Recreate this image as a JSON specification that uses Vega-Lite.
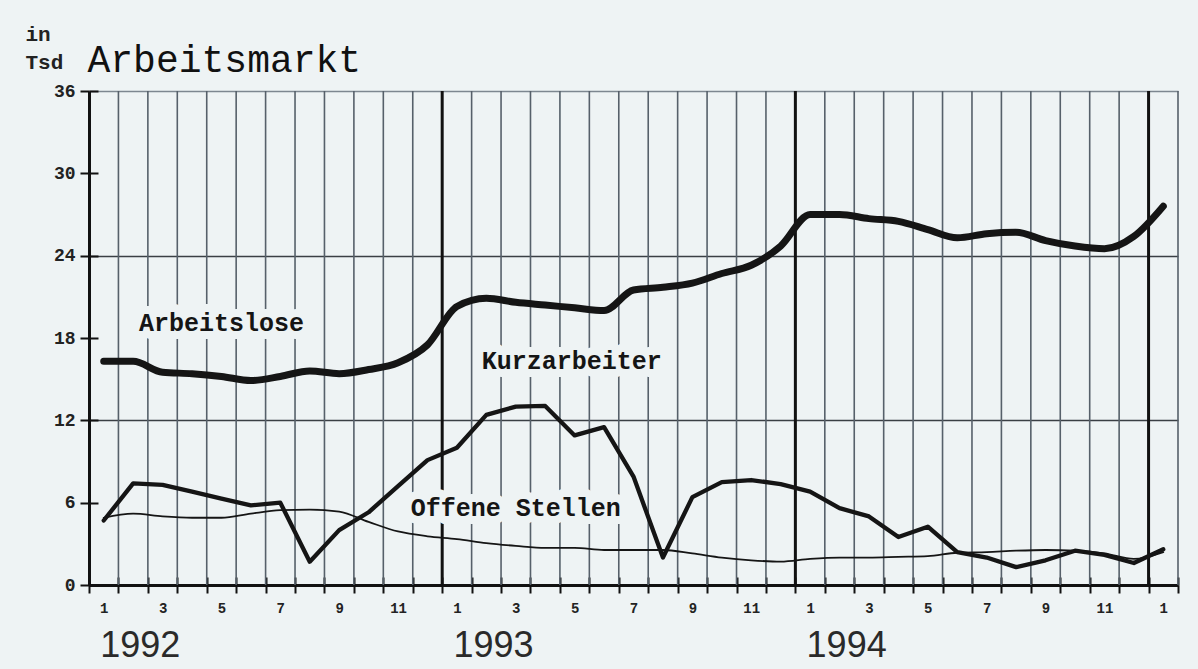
{
  "$schema": "https://vega.github.io/schema/vega-lite/v6.json",
  "width": 1089,
  "height": 494,
  "autosize": "none",
  "padding": {"left": 89, "top": 91, "right": 20, "bottom": 84},
  "background": "#eef3f4",
  "config": {"view": {"stroke": null}},
  "datasets": {
    "minor": [
      {"b": 0.5}, {"b": 1.5}, {"b": 2.5}, {"b": 3.5}, {"b": 4.5}, {"b": 5.5}, {"b": 6.5}, {"b": 7.5}, {"b": 8.5}, {"b": 9.5}, {"b": 10.5},
      {"b": 12.5}, {"b": 13.5}, {"b": 14.5}, {"b": 15.5}, {"b": 16.5}, {"b": 17.5}, {"b": 18.5}, {"b": 19.5}, {"b": 20.5}, {"b": 21.5}, {"b": 22.5},
      {"b": 24.5}, {"b": 25.5}, {"b": 26.5}, {"b": 27.5}, {"b": 28.5}, {"b": 29.5}, {"b": 30.5}, {"b": 31.5}, {"b": 32.5}, {"b": 33.5}, {"b": 34.5},
      {"b": 36.5}
    ],
    "major": [{"b": 11.5}, {"b": 23.5}, {"b": 35.5}],
    "labels": [
      {"label": "Arbeitslose", "t": 4.0, "v": 19.1},
      {"label": "Kurzarbeiter", "t": 15.9, "v": 16.3},
      {"label": "Offene Stellen", "t": 14.0, "v": 5.6}
    ],
    "series": [
      {"series": "Arbeitslose", "t": 0, "v": 16.3}, {"series": "Arbeitslose", "t": 1, "v": 16.3}, {"series": "Arbeitslose", "t": 2, "v": 15.5}, {"series": "Arbeitslose", "t": 3, "v": 15.4}, {"series": "Arbeitslose", "t": 4, "v": 15.2}, {"series": "Arbeitslose", "t": 5, "v": 14.9}, {"series": "Arbeitslose", "t": 6, "v": 15.2}, {"series": "Arbeitslose", "t": 7, "v": 15.6}, {"series": "Arbeitslose", "t": 8, "v": 15.4}, {"series": "Arbeitslose", "t": 9, "v": 15.7}, {"series": "Arbeitslose", "t": 10, "v": 16.2}, {"series": "Arbeitslose", "t": 11, "v": 17.5},
      {"series": "Arbeitslose", "t": 12, "v": 20.3}, {"series": "Arbeitslose", "t": 13, "v": 20.9}, {"series": "Arbeitslose", "t": 14, "v": 20.6}, {"series": "Arbeitslose", "t": 15, "v": 20.4}, {"series": "Arbeitslose", "t": 16, "v": 20.2}, {"series": "Arbeitslose", "t": 17, "v": 20.0}, {"series": "Arbeitslose", "t": 18, "v": 21.5}, {"series": "Arbeitslose", "t": 19, "v": 21.7}, {"series": "Arbeitslose", "t": 20, "v": 22.0}, {"series": "Arbeitslose", "t": 21, "v": 22.7}, {"series": "Arbeitslose", "t": 22, "v": 23.3}, {"series": "Arbeitslose", "t": 23, "v": 24.7},
      {"series": "Arbeitslose", "t": 24, "v": 27.0}, {"series": "Arbeitslose", "t": 25, "v": 27.0}, {"series": "Arbeitslose", "t": 26, "v": 26.7}, {"series": "Arbeitslose", "t": 27, "v": 26.5}, {"series": "Arbeitslose", "t": 28, "v": 25.9}, {"series": "Arbeitslose", "t": 29, "v": 25.3}, {"series": "Arbeitslose", "t": 30, "v": 25.6}, {"series": "Arbeitslose", "t": 31, "v": 25.7}, {"series": "Arbeitslose", "t": 32, "v": 25.1}, {"series": "Arbeitslose", "t": 33, "v": 24.7}, {"series": "Arbeitslose", "t": 34, "v": 24.5}, {"series": "Arbeitslose", "t": 35, "v": 25.4}, {"series": "Arbeitslose", "t": 36, "v": 27.6},
      {"series": "Kurzarbeiter", "t": 0, "v": 4.7}, {"series": "Kurzarbeiter", "t": 1, "v": 7.4}, {"series": "Kurzarbeiter", "t": 2, "v": 7.3}, {"series": "Kurzarbeiter", "t": 3, "v": 6.8}, {"series": "Kurzarbeiter", "t": 4, "v": 6.3}, {"series": "Kurzarbeiter", "t": 5, "v": 5.8}, {"series": "Kurzarbeiter", "t": 6, "v": 6.0}, {"series": "Kurzarbeiter", "t": 7, "v": 1.7}, {"series": "Kurzarbeiter", "t": 8, "v": 4.0}, {"series": "Kurzarbeiter", "t": 9, "v": 5.3}, {"series": "Kurzarbeiter", "t": 10, "v": 7.2}, {"series": "Kurzarbeiter", "t": 11, "v": 9.1},
      {"series": "Kurzarbeiter", "t": 12, "v": 10.0}, {"series": "Kurzarbeiter", "t": 13, "v": 12.4}, {"series": "Kurzarbeiter", "t": 14, "v": 13.0}, {"series": "Kurzarbeiter", "t": 15, "v": 13.05}, {"series": "Kurzarbeiter", "t": 16, "v": 10.9}, {"series": "Kurzarbeiter", "t": 17, "v": 11.5}, {"series": "Kurzarbeiter", "t": 18, "v": 7.9}, {"series": "Kurzarbeiter", "t": 19, "v": 2.0}, {"series": "Kurzarbeiter", "t": 20, "v": 6.4}, {"series": "Kurzarbeiter", "t": 21, "v": 7.5}, {"series": "Kurzarbeiter", "t": 22, "v": 7.65}, {"series": "Kurzarbeiter", "t": 23, "v": 7.35},
      {"series": "Kurzarbeiter", "t": 24, "v": 6.8}, {"series": "Kurzarbeiter", "t": 25, "v": 5.6}, {"series": "Kurzarbeiter", "t": 26, "v": 5.0}, {"series": "Kurzarbeiter", "t": 27, "v": 3.5}, {"series": "Kurzarbeiter", "t": 28, "v": 4.25}, {"series": "Kurzarbeiter", "t": 29, "v": 2.4}, {"series": "Kurzarbeiter", "t": 30, "v": 2.0}, {"series": "Kurzarbeiter", "t": 31, "v": 1.3}, {"series": "Kurzarbeiter", "t": 32, "v": 1.8}, {"series": "Kurzarbeiter", "t": 33, "v": 2.5}, {"series": "Kurzarbeiter", "t": 34, "v": 2.2}, {"series": "Kurzarbeiter", "t": 35, "v": 1.6}, {"series": "Kurzarbeiter", "t": 36, "v": 2.6},
      {"series": "Offene Stellen", "t": 0, "v": 4.9}, {"series": "Offene Stellen", "t": 1, "v": 5.2}, {"series": "Offene Stellen", "t": 2, "v": 5.0}, {"series": "Offene Stellen", "t": 3, "v": 4.9}, {"series": "Offene Stellen", "t": 4, "v": 4.9}, {"series": "Offene Stellen", "t": 5, "v": 5.2}, {"series": "Offene Stellen", "t": 6, "v": 5.45}, {"series": "Offene Stellen", "t": 7, "v": 5.5}, {"series": "Offene Stellen", "t": 8, "v": 5.35}, {"series": "Offene Stellen", "t": 9, "v": 4.6}, {"series": "Offene Stellen", "t": 10, "v": 3.9}, {"series": "Offene Stellen", "t": 11, "v": 3.55},
      {"series": "Offene Stellen", "t": 12, "v": 3.35}, {"series": "Offene Stellen", "t": 13, "v": 3.05}, {"series": "Offene Stellen", "t": 14, "v": 2.85}, {"series": "Offene Stellen", "t": 15, "v": 2.7}, {"series": "Offene Stellen", "t": 16, "v": 2.7}, {"series": "Offene Stellen", "t": 17, "v": 2.55}, {"series": "Offene Stellen", "t": 18, "v": 2.55}, {"series": "Offene Stellen", "t": 19, "v": 2.55}, {"series": "Offene Stellen", "t": 20, "v": 2.3}, {"series": "Offene Stellen", "t": 21, "v": 2.0}, {"series": "Offene Stellen", "t": 22, "v": 1.8}, {"series": "Offene Stellen", "t": 23, "v": 1.7},
      {"series": "Offene Stellen", "t": 24, "v": 1.9}, {"series": "Offene Stellen", "t": 25, "v": 2.0}, {"series": "Offene Stellen", "t": 26, "v": 2.0}, {"series": "Offene Stellen", "t": 27, "v": 2.05}, {"series": "Offene Stellen", "t": 28, "v": 2.1}, {"series": "Offene Stellen", "t": 29, "v": 2.35}, {"series": "Offene Stellen", "t": 30, "v": 2.4}, {"series": "Offene Stellen", "t": 31, "v": 2.5}, {"series": "Offene Stellen", "t": 32, "v": 2.55}, {"series": "Offene Stellen", "t": 33, "v": 2.5}, {"series": "Offene Stellen", "t": 34, "v": 2.3}, {"series": "Offene Stellen", "t": 35, "v": 1.9}, {"series": "Offene Stellen", "t": 36, "v": 2.4}
    ]
  },
  "layer": [
    {
      "data": {"name": "minor"},
      "mark": {"type": "rule", "color": "#56606a", "strokeWidth": 1.6},
      "encoding": {
        "x": {
          "field": "b", "type": "quantitative",
          "scale": {"domain": [-0.5, 36.5], "nice": false, "zero": false},
          "axis": {
            "orient": "bottom",
            "values": [-0.5, 0.5, 1.5, 2.5, 3.5, 4.5, 5.5, 6.5, 7.5, 8.5, 9.5, 10.5, 11.5, 12.5, 13.5, 14.5, 15.5, 16.5, 17.5, 18.5, 19.5, 20.5, 21.5, 22.5, 23.5, 24.5, 25.5, 26.5, 27.5, 28.5, 29.5, 30.5, 31.5, 32.5, 33.5, 34.5, 35.5, 36.5],
            "labels": false, "grid": false,
            "domain": true, "domainColor": "#111", "domainWidth": 3,
            "ticks": true, "tickColor": "#111", "tickWidth": 2, "tickSize": 8,
            "title": null
          }
        },
        "y": {
          "datum": 0, "type": "quantitative",
          "scale": {"domain": [0, 36], "nice": false},
          "axis": {
            "orient": "left",
            "values": [0, 6, 12, 18, 24, 30, 36],
            "domain": true, "domainColor": "#111", "domainWidth": 3,
            "ticks": true, "tickColor": "#111", "tickWidth": 2, "tickSize": 9,
            "labelFont": "Liberation Mono", "labelFontWeight": "bold", "labelFontSize": 18, "labelColor": "#222", "labelPadding": 5,
            "grid": true,
            "gridColor": {"condition": {"test": "datum.value == 36", "value": "#7d8790"}, "value": "#3a3f44"},
            "gridOpacity": {"condition": {"test": "datum.value == 12 || datum.value == 24 || datum.value == 36", "value": 1}, "value": 0},
            "gridWidth": 1.6,
            "title": ["in", "Tsd"], "titleAngle": 0, "titleAlign": "left", "titleBaseline": "alphabetic",
            "titleX": -64, "titleY": -51, "titleFont": "Liberation Mono", "titleFontSize": 21, "titleFontWeight": "bold", "titleLineHeight": 28, "titleColor": "#222"
          }
        },
        "y2": {"datum": 36}
      }
    },
    {
      "data": {"name": "major"},
      "mark": {"type": "rule", "color": "#111", "strokeWidth": 3},
      "encoding": {
        "x": {
          "field": "b", "type": "quantitative",
          "scale": {"domain": [-0.5, 36.5], "nice": false, "zero": false},
          "axis": {
            "orient": "bottom", "offset": -8,
            "values": [-0.5, 0.5, 1.5, 2.5, 3.5, 4.5, 5.5, 6.5, 7.5, 8.5, 9.5, 10.5, 11.5, 12.5, 13.5, 14.5, 15.5, 16.5, 17.5, 18.5, 19.5, 20.5, 21.5, 22.5, 23.5, 24.5, 25.5, 26.5, 27.5, 28.5, 29.5, 30.5, 31.5, 32.5, 33.5, 34.5, 35.5, 36.5],
            "labels": false, "grid": false, "domain": false,
            "ticks": true, "tickColor": "#111", "tickWidth": 2, "tickSize": 8,
            "title": null
          }
        },
        "y": {
          "datum": 0, "type": "quantitative",
          "scale": {"domain": [0, 36], "nice": false},
          "axis": {
            "orient": "left", "offset": -9,
            "values": [0, 6, 12, 18, 24, 30, 36],
            "labels": false, "grid": false, "domain": false,
            "ticks": true, "tickColor": "#111", "tickWidth": 2, "tickSize": 9,
            "title": "Arbeitsmarkt", "titleAngle": 0, "titleAlign": "left", "titleBaseline": "alphabetic",
            "titleX": -11, "titleY": -20, "titleFont": "Liberation Mono", "titleFontSize": 38, "titleFontWeight": "normal", "titleColor": "#111"
          }
        },
        "y2": {"datum": 36}
      }
    },
    {
      "data": {"name": "labels"},
      "mark": {"type": "text", "font": "Liberation Mono", "fontWeight": "bold", "fontSize": 25, "stroke": "#eef3f4", "strokeWidth": 16, "strokeJoin": "round", "fill": "#eef3f4", "baseline": "middle", "align": "center"},
      "encoding": {
        "x": {"field": "t", "type": "quantitative", "scale": {"domain": [-0.5, 36.5], "nice": false, "zero": false}, "axis": null},
        "y": {"field": "v", "type": "quantitative", "scale": {"domain": [0, 36], "nice": false}, "axis": null},
        "text": {"field": "label"}
      }
    },
    {
      "data": {"name": "series"},
      "transform": [{"filter": "datum.series == 'Kurzarbeiter'"}],
      "mark": {"type": "line", "color": "#151515", "strokeWidth": 4.3, "strokeJoin": "round", "strokeCap": "round"},
      "encoding": {
        "x": {
          "field": "t", "type": "quantitative",
          "scale": {"domain": [-0.5, 36.5], "nice": false, "zero": false},
          "axis": {
            "orient": "bottom",
            "values": [0, 2, 4, 6, 8, 10, 12, 14, 16, 18, 20, 22, 24, 26, 28, 30, 32, 34, 36],
            "labelExpr": "'' + ((datum.value % 12) + 1)",
            "labelFont": "Liberation Mono", "labelFontWeight": "bold", "labelFontSize": 14, "labelColor": "#222",
            "labelBaseline": "top", "labelPadding": 16, "labelFlush": false, "labelOverlap": false, "labelBound": false,
            "ticks": false, "domain": false, "grid": false, "title": null
          }
        },
        "y": {"field": "v", "type": "quantitative", "scale": {"domain": [0, 36], "nice": false}, "axis": null}
      }
    },
    {
      "data": {"name": "series"},
      "transform": [{"filter": "datum.series != 'Kurzarbeiter'"}],
      "mark": {"type": "line", "color": "#151515", "interpolate": "monotone", "strokeJoin": "round", "strokeCap": "round"},
      "encoding": {
        "x": {"field": "t", "type": "quantitative", "scale": {"domain": [-0.5, 36.5], "nice": false, "zero": false}, "axis": null},
        "y": {"field": "v", "type": "quantitative", "scale": {"domain": [0, 36], "nice": false}, "axis": null},
        "strokeWidth": {"field": "series", "type": "nominal", "scale": {"domain": ["Arbeitslose", "Offene Stellen"], "range": [7, 1.8]}, "legend": null}
      }
    },
    {
      "data": {"name": "labels"},
      "mark": {"type": "text", "font": "Liberation Mono", "fontWeight": "bold", "fontSize": 25, "color": "#151515", "baseline": "middle", "align": "center"},
      "encoding": {
        "x": {
          "field": "t", "type": "quantitative",
          "scale": {"domain": [-0.5, 36.5], "nice": false, "zero": false},
          "axis": {
            "orient": "bottom",
            "values": [0, 12, 24],
            "labelExpr": "'' + (1992 + datum.value / 12)",
            "labelFont": "Liberation Sans", "labelFontSize": 36, "labelFontWeight": "normal", "labelColor": "#2a2a2a",
            "labelAlign": "left", "labelBaseline": "top", "labelPadding": 43, "labelOffset": -4,
            "labelFlush": false, "labelOverlap": false, "labelBound": false,
            "ticks": false, "domain": false, "grid": false, "title": null
          }
        },
        "y": {"field": "v", "type": "quantitative", "scale": {"domain": [0, 36], "nice": false}, "axis": null},
        "text": {"field": "label"}
      }
    }
  ],
  "resolve": {"axis": {"x": "independent", "y": "independent"}}
}
